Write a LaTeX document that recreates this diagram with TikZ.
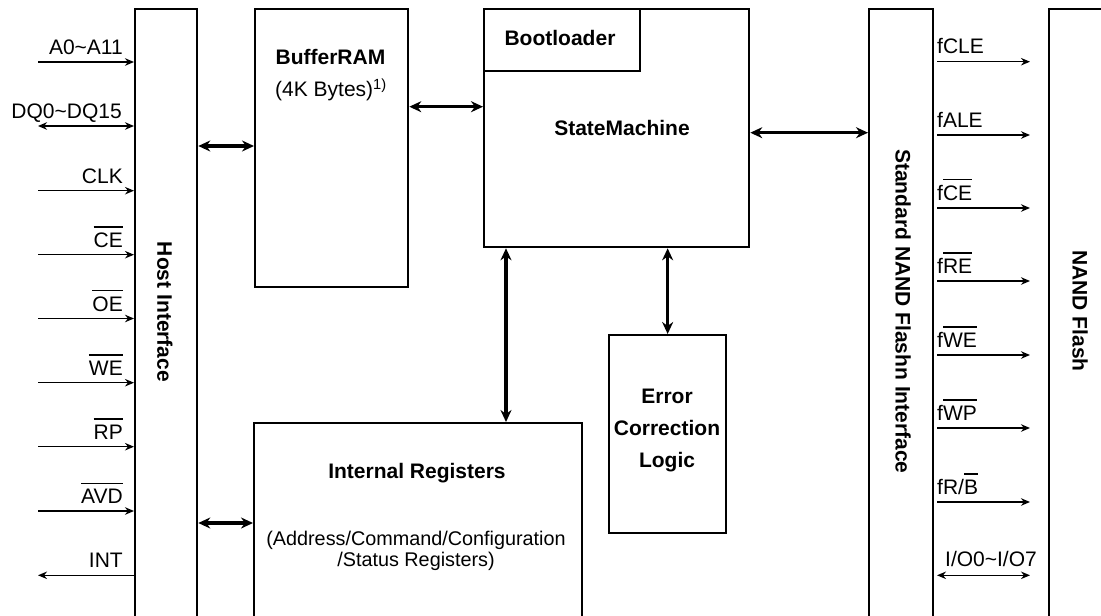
\documentclass[tikz,border=0pt]{standalone}
\usepackage{fontspec}
\setmainfont{Liberation Sans}
\usetikzlibrary{arrows.meta}
\newcommand\ovl[1]{\leavevmode\vbox{\hrule height 1.4pt\kern 5pt\hbox{#1}}}
\begin{document}
\begin{tikzpicture}[x=1pt,y=-1pt,
  box/.style={draw, line width=2.3pt, inner sep=0pt, anchor=north west},
  title/.style={font=\fontsize{21}{25}\selectfont\bfseries, inner sep=0pt},
  txt/.style={font=\fontsize{21}{21}\selectfont, inner sep=0pt},
  lab/.style={font=\fontsize{21}{25}\selectfont, inner sep=0pt},
  sig/.style={line width=1.3pt, -{Stealth[length=9pt,width=7.5pt]}},
  sigb/.style={line width=1.3pt, {Stealth[length=9pt,width=7.5pt]}-{Stealth[length=9pt,width=7.5pt]}},
  bus/.style={line width=3.2pt, {Stealth[length=12pt,width=11pt]}-{Stealth[length=12pt,width=11pt]}}]
\useasboundingbox (0,0) rectangle (1101,616);
\clip (0,0) rectangle (1101,616);
% boxes
\node[box, minimum width=62pt, minimum height=660pt] (host) at (134,8) {};
\node[box, minimum width=153pt, minimum height=278pt] (buf) at (254,8) {};
\node[box, minimum width=265pt, minimum height=238pt] (sm) at (483,8) {};
\node[box, minimum width=156pt, minimum height=62pt] (boot) at (483,8) {};
\node[box, minimum width=117pt, minimum height=198pt] (ecl) at (608,334) {};
\node[box, minimum width=328pt, minimum height=260pt] (ir) at (253,422) {};
\node[box, minimum width=64pt, minimum height=660pt] (sni) at (868,8) {};
\node[box, minimum width=100pt, minimum height=660pt] (nf) at (1048,8) {};
% texts
\node[title, rotate=-90] (thost) at (165,312) {Host Interface};
\node[title] (tbuf) at (330.5,57) {BufferRAM};
\node[txt] (tbytes) at (331,90) {(4K Bytes)\textsuperscript{1)}};
\node[title] (tboot) at (560,38) {Bootloader};
\node[title] (tsm) at (622,128) {StateMachine};
\node[title, align=center, font=\fontsize{21}{32}\selectfont\bfseries] (tecl) at (667,430) {Error\\Correction\\Logic};
\node[title] (tir) at (417,473) {Internal Registers};
\node[txt, align=center, font=\fontsize{19.8}{21}\selectfont] (tirs) at (416,551) {(Address/Command/Configuration\\/Status Registers)};
\node[title, rotate=-90] (tsni) at (903,311.5) {Standard NAND Flashn Interface};
\node[title, rotate=-90] (tnf) at (1080,311) {NAND Flash};
% internal buses
\coordinate (yb1) at (0,146);
\coordinate (yb2) at (0,106.7);
\coordinate (yb3) at (0,132.7);
\coordinate (yb4) at (0,523);
\coordinate (xb1) at (506,0);
\draw[bus] (host.east |- yb1) -- (buf.west |- yb1);
\draw[bus] (buf.east |- yb2) -- (sm.west |- yb2);
\draw[bus] (sm.east |- yb3) -- (sni.west |- yb3);
\draw[bus] (host.east |- yb4) -- (ir.west |- yb4);
\draw[bus] (sm.south -| xb1) -- (ir.north -| xb1);
\draw[bus] (sm.south -| ecl.north) -- (ecl.north);
% left signals
\foreach \y/\t [count=\i] in {62/A0\textasciitilde A11, 190.7/CLK, 254.7/\ovl{CE}, 318.5/\ovl{OE}, 382.7/\ovl{WE}, 446.7/\ovl{RP}, 511/\ovl{AVD}}{
  \coordinate (L\i) at (38,\y);
  \draw[sig] (L\i) -- (L\i -| host.west);
  \node[lab, anchor=base east] (lt\i) at (123,\y-7.5) {\t};
}
\coordinate (Ldq) at (38,126);
\draw[sigb] (Ldq) -- (Ldq -| host.west);
\node[lab, anchor=base east] (ltdq) at (122,118.5) {DQ0\textasciitilde DQ15};
\coordinate (Lint) at (38,575.3);
\draw[sig] (Lint -| host.west) -- (Lint);
\node[lab, anchor=base east] (ltint) at (123,567.8) {INT};
% right signals
\foreach \y/\t [count=\i] in {61.7/fCLE, 135/fALE, 208/f\ovl{CE}, 281/f\ovl{RE}, 355/f\ovl{WE}, 428/f\ovl{WP}, 502/{fR/\ovl{B}}}{
  \coordinate (Ra\i) at (937,\y);
  \coordinate (Rb\i) at (1030,\y);
  \draw[sig] (Ra\i) -- (Rb\i);
  \node[lab, anchor=base west] (rt\i) at (937,\y-8) {\t};
}
\coordinate (Rio1) at (937,575.3);
\coordinate (Rio2) at (1030,575.3);
\draw[sigb] (Rio1) -- (Rio2);
\node[lab, anchor=base] (rtio) at (991,566) {I/O0\textasciitilde I/O7};
\end{tikzpicture}
\end{document}
